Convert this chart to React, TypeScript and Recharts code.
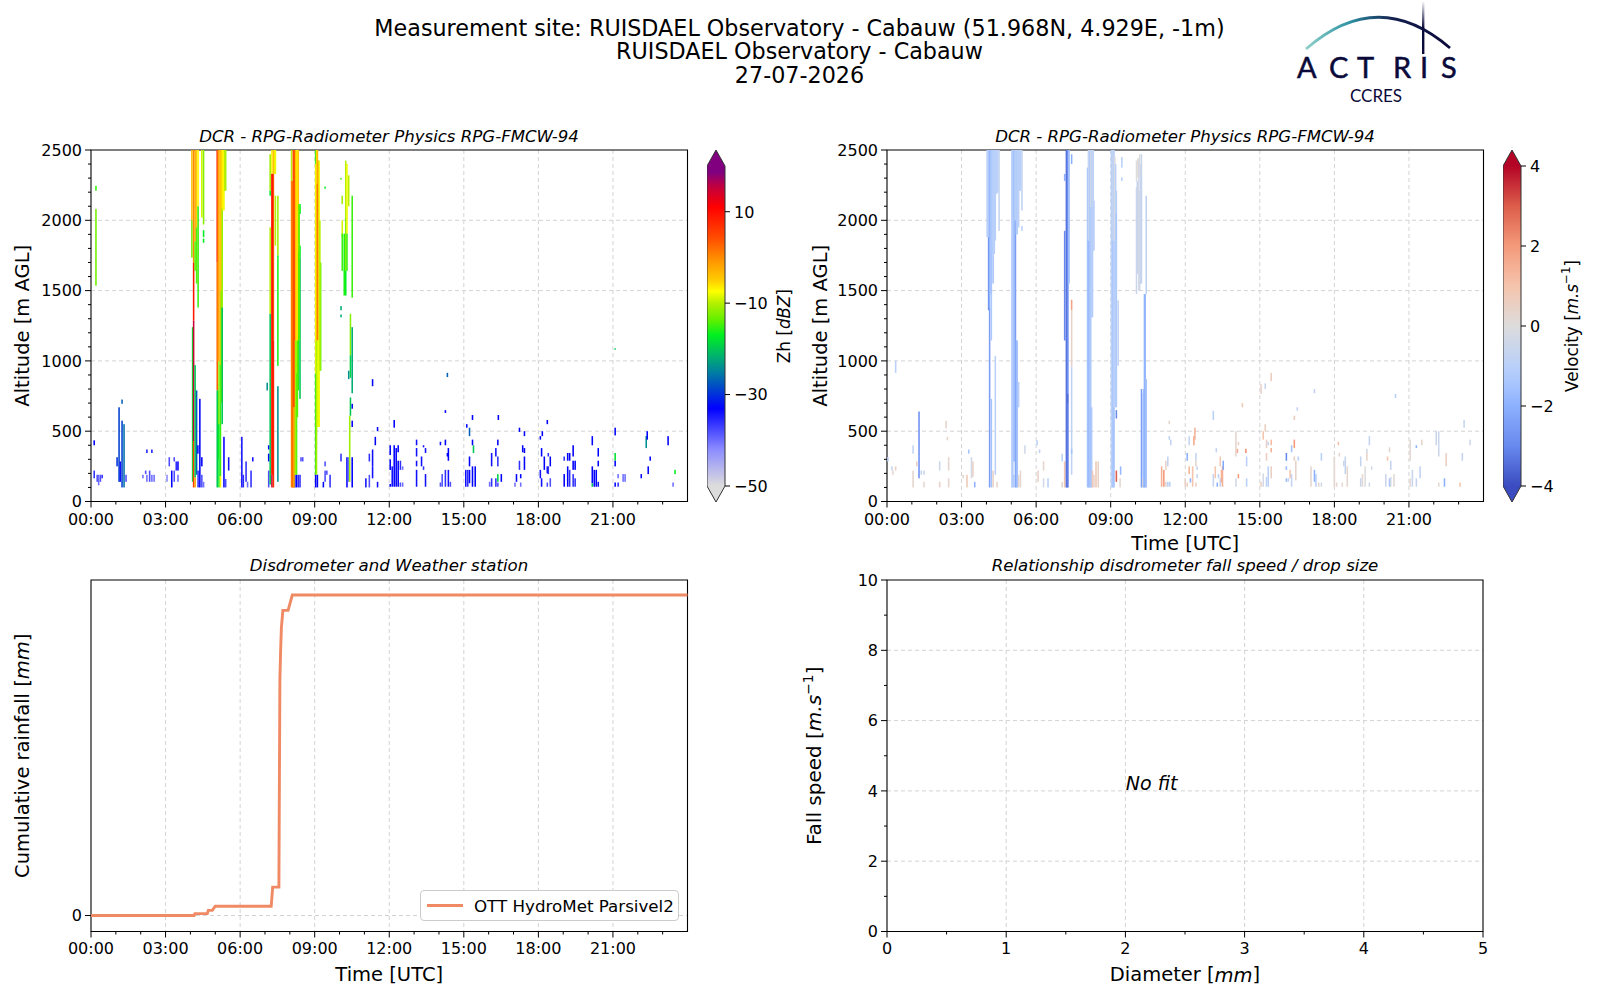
import {
  ComposedChart, Bar, Cell, Line, XAxis, YAxis, CartesianGrid,
  ReferenceArea, ReferenceDot, Label, Legend,
} from 'recharts'

const FONT = '"DejaVu Sans", sans-serif'
const TITLE_LINES = [
  'Measurement site: RUISDAEL Observatory - Cabauw (51.968N, 4.929E, -1m)',
  'RUISDAEL Observatory - Cabauw',
  '27-07-2026',
]

const hourTicks = [0, 1, 2, 3, 4, 5, 6, 7, 8, 9, 10, 11, 12, 13, 14, 15, 16, 17, 18, 19, 20, 21, 22, 23]
const hourGrid = [3, 6, 9, 12, 15, 18, 21]
const altTicks = [0, 100, 200, 300, 400, 500, 600, 700, 800, 900, 1000, 1100, 1200, 1300, 1400, 1500, 1600, 1700, 1800, 1900, 2000, 2100, 2200, 2300, 2400, 2500]
const altGrid = [500, 1000, 1500, 2000]

// colour scales as [value, colour]
const zhStops: [number, string][] = [
  [-50, '#dcdcdc'], [-42, '#8c8cff'], [-33, '#0000ff'], [-25, '#0080a0'], [-21.7, '#00b070'],
  [-17, '#00f020'], [-13.7, '#60f000'], [-10, '#b5f000'], [-7.4, '#ffff00'], [-5, '#ffcc00'],
  [-1, '#ff9900'], [4, '#ff5000'], [11, '#ff0000'], [15.6, '#c00040'], [18.6, '#800080'], [20, '#800080'],
]
const velStops: [number, string][] = [
  [-4, '#3b4cc0'], [-3, '#6889ee'], [-2, '#8db0fe'], [-1.4, '#aac7fd'], [-1, '#b9d0f9'], [0, '#dddcdc'],
  [1, '#f5c4ac'], [2, '#f49a7b'], [3, '#dc5d4a'], [4, '#b40426'],
]
const zhBarTicks = [-50, -30, -10, 10]
const velBarTicks = [-4, -2, 0, 2, 4]

// reflectivity: [hour, low m, high m, dBZ]
const zhEarlyClutter = [
  [0.13, 400, 435, -33], [0.13, 165, 220, -36], [0.25, 140, 190, -38], [0.31, 115, 190, -40], [0.38, 140, 190, -38], [0.45, 165, 190, -36],
  [1.05, 250, 315, -30], [1.13, 140, 670, -29], [1.18, 140, 285, -34], [1.25, 695, 725, -27], [1.25, 100, 575, -29], [1.33, 100, 550, -26], [1.41, 140, 190, -38],
  [2.09, 165, 190, -40], [2.2, 195, 220, -38], [2.25, 345, 370, -35], [2.25, 140, 190, -40], [2.36, 140, 220, -38], [2.45, 345, 370, -35], [2.45, 140, 190, -40], [2.54, 140, 190, -40],
  [3.06, 140, 190, -42], [3.15, 250, 315, -38], [3.25, 100, 220, -33], [3.35, 140, 220, -38], [3.35, 285, 315, -38], [3.43, 220, 285, -36], [3.5, 220, 285, -33], [3.5, 140, 190, -40],
  [4.31, 100, 220, -36], [4.38, 100, 730, -33], [4.46, 100, 190, -38], [4.46, 250, 315, -33], [4.53, 100, 140, -40], [4.3, 340, 400, -33],
  [5.35, 100, 460, -33], [5.42, 100, 160, -38], [5.54, 220, 315, -34],
  [6.07, 100, 460, -34], [6.13, 100, 190, -36], [6.24, 140, 285, -36], [6.3, 100, 140, -40], [6.44, 100, 220, -36], [6.51, 285, 315, -34],
  [7.15, 370, 400, -33], [7.15, 285, 340, -33], [7.15, 100, 220, -38],
  [8.45, 285, 315, -38], [8.52, 285, 315, -38], [8.41, 100, 190, -36], [8.34, 100, 190, -36],
  [9.35, 100, 140, -33], [9.42, 250, 285, -38], [9.42, 140, 220, -38], [9.49, 190, 220, -38], [9.62, 100, 190, -36],
  [10.06, 285, 340, -36], [10.3, 100, 315, -33], [10.36, 140, 315, -40], [10.51, 100, 315, -33], [10.51, 530, 575, -33], [10.51, 660, 695, -33],
]
const zhLateClutter = [
  [11.06, 100, 165, -34], [11.2, 285, 340, -36], [11.2, 100, 190, -38], [11.33, 820, 870, -33], [11.33, 250, 370, -34], [11.33, 165, 250, -34], [11.44, 400, 460, -33], [11.53, 500, 530, -33], [11.53, 100, 140, -34],
  [12.04, 105, 125, -33], [12.04, 224, 300, -33], [12.04, 330, 400, -33], [12.12, 105, 250, -34], [12.2, 105, 400, -33], [12.2, 525, 580, -33], [12.28, 105, 380, -33], [12.36, 105, 290, -33], [12.36, 350, 400, -33], [12.45, 105, 135, -38], [12.45, 225, 290, -36], [12.54, 105, 135, -40], [12.54, 225, 250, -40],
  [13.1, 105, 225, -34], [13.1, 250, 290, -34], [13.1, 320, 380, -34], [13.1, 400, 440, -34], [13.3, 250, 320, -34], [13.38, 225, 250, -36], [13.38, 385, 400, -34], [13.46, 105, 195, -34], [13.46, 345, 380, -34],
  [14.06, 105, 135, -38], [14.06, 400, 425, -34], [14.13, 105, 195, -38], [14.26, 105, 225, -36], [14.26, 400, 440, -33], [14.26, 630, 650, -33], [14.34, 885, 915, -27], [14.34, 320, 345, -33], [14.38, 290, 380, -33], [14.38, 105, 225, -34], [14.46, 105, 140, -38],
  [15.08, 105, 225, -34], [15.12, 525, 550, -33], [15.16, 105, 225, -36], [15.23, 465, 525, -27], [15.23, 250, 320, -33], [15.23, 130, 225, -33], [15.35, 580, 615, -33], [15.35, 400, 440, -33], [15.35, 105, 250, -33], [15.39, 345, 400, -20], [15.46, 105, 250, -33],
  [16.04, 105, 140, -40], [16.12, 250, 345, -34], [16.12, 105, 165, -36], [16.29, 320, 380, -34], [16.29, 105, 165, -36], [16.37, 400, 440, -33], [16.37, 250, 320, -36], [16.37, 140, 195, -19], [16.37, 105, 135, -38], [16.39, 580, 615, -33], [16.51, 140, 195, -33],
  [17.06, 105, 135, -40], [17.12, 140, 195, -33], [17.24, 495, 525, -33], [17.24, 225, 290, -36], [17.29, 165, 195, -33], [17.29, 105, 135, -40], [17.37, 350, 400, -33], [17.44, 465, 500, -33], [17.44, 345, 380, -33], [17.44, 225, 320, -33],
  [18.08, 440, 465, -33], [18.08, 165, 225, -34], [18.13, 320, 380, -33], [18.13, 105, 165, -34], [18.16, 465, 500, -33], [18.24, 225, 320, -33], [18.36, 550, 580, -33], [18.36, 200, 250, -33], [18.36, 105, 135, -38], [18.4, 320, 345, -36], [18.4, 195, 250, -36], [18.48, 250, 320, -33], [18.48, 105, 165, -38],
  [19.04, 290, 320, -36], [19.04, 105, 195, -33], [19.18, 290, 345, -33], [19.18, 105, 250, -33], [19.26, 290, 345, -33], [19.26, 105, 225, -36], [19.4, 320, 400, -33], [19.4, 225, 290, -33], [19.4, 105, 195, -36], [19.48, 225, 290, -33], [19.48, 105, 165, -36],
  [20.17, 400, 465, -33], [20.17, 130, 250, -33], [20.17, 105, 130, -20], [20.25, 105, 225, -33], [20.33, 105, 225, -33], [20.41, 320, 380, -33], [20.41, 250, 290, -33], [20.41, 105, 140, -34],
  [21.09, 1080, 1090, -20], [21.09, 470, 525, -33], [21.09, 290, 345, -18], [21.09, 250, 290, -33], [21.09, 105, 135, -33], [21.21, 165, 195, -40], [21.21, 105, 135, -36], [21.41, 140, 195, -40], [21.49, 140, 195, -40],
  [22.14, 165, 195, -33], [22.34, 380, 465, -24], [22.38, 440, 500, -33], [22.42, 195, 250, -33], [22.5, 290, 320, -33], [23.22, 400, 465, -33], [23.42, 105, 135, -40], [23.5, 195, 225, -17],
]
const zhRainBands = [
  [0.2, 2210, 2245, -15], [0.2, 1535, 2080, -13],
  [4.06, 2000, 2500, -4], [4.06, 1735, 2000, -13], [4.09, 140, 1240, -18],
  [4.13, 1700, 2500, 0], [4.13, 1285, 1700, 9], [4.13, 430, 1285, 15], [4.13, 100, 430, 6],
  [4.19, 1850, 2500, -2], [4.19, 1640, 1850, -14], [4.19, 170, 970, -20], [4.19, 100, 170, -2],
  [4.25, 1950, 2500, -5], [4.25, 1550, 1950, -14], [4.25, 190, 790, -27],
  [4.31, 2100, 2500, -7], [4.31, 1380, 2100, -15],
  [4.46, 2020, 2500, -9], [4.53, 1970, 2500, -12], [4.53, 1880, 1930, -17], [4.53, 1840, 1870, -17],
  [5.08, 1700, 2500, 9], [5.08, 790, 1700, 3], [5.08, 100, 790, -20],
  [5.115, 1000, 2500, 0], [5.115, 300, 790, -19],
  [5.15, 1000, 2500, -2], [5.15, 550, 1000, -12], [5.15, 100, 550, -17],
  [5.21, 970, 2500, -4], [5.21, 180, 970, -15], [5.21, 100, 180, -7],
  [5.245, 1500, 2500, -5], [5.245, 700, 1500, -13],
  [5.28, 2090, 2500, -6], [5.28, 1380, 2090, -11], [5.28, 550, 1380, -20],
  [5.35, 2070, 2500, -8], [5.42, 2210, 2500, -11], [5.315, 2070, 2500, -7], [5.385, 2210, 2500, -10],
  [7.09, 790, 845, -24],
  [7.21, 2210, 2470, -11], [7.21, 2175, 2210, -17], [7.21, 1335, 1950, -10], [7.21, 120, 1335, -20],
  [7.28, 2330, 2500, -7], [7.28, 190, 2330, 9], [7.28, 100, 190, 15],
  [7.34, 2330, 2500, -3], [7.34, 1145, 2330, 1], [7.34, 100, 1145, 7],
  [7.31, 190, 2330, 9], [7.38, 2330, 2500, -6],
  [7.42, 2330, 2500, -8], [7.42, 1820, 2175, -10],
  [7.52, 1750, 2175, -11], [7.52, 1730, 1750, -17], [7.52, 965, 1730, -16], [7.52, 140, 820, -24],
  [8.07, 2280, 2500, -10], [8.07, 100, 2280, 0],
  [8.14, 670, 2500, 3], [8.14, 100, 670, 2], [8.105, 100, 2280, 2],
  [8.2, 1855, 2500, 1], [8.2, 1145, 1855, 7], [8.2, 670, 1145, -7], [8.2, 190, 670, -16], [8.2, 100, 190, -33],
  [8.17, 670, 2500, 5], [8.17, 100, 670, -3],
  [8.27, 910, 2500, -7], [8.27, 190, 910, -15], [8.27, 100, 190, -33], [8.235, 1145, 2500, -4], [8.235, 190, 1145, -11],
  [8.34, 2115, 2500, -4], [8.34, 1780, 2115, -11], [8.34, 790, 1780, -16], [8.305, 1145, 2500, -6], [8.305, 600, 1145, -14],
  [8.41, 2045, 2115, -17], [8.41, 1735, 1820, -17], [8.41, 730, 1735, -20], [8.375, 1145, 2115, -14],
  [9.04, 2400, 2500, -16], [9.04, 910, 2400, -8], [9.04, 190, 910, -15], [9.04, 100, 190, -33],
  [9.075, 190, 1145, -11], [9.075, 1145, 2500, -6],
  [9.11, 2260, 2500, -4], [9.11, 1145, 2260, 2], [9.11, 530, 1145, -9], [9.11, 100, 190, -33],
  [9.145, 1145, 2425, 0], [9.145, 530, 1145, -8],
  [9.18, 530, 2425, -8], [9.24, 930, 1700, -14], [9.21, 930, 2000, -10],
  [9.42, 2225, 2240, -17],
  [10.06, 2290, 2300, -15], [10.06, 1360, 1390, -22], [10.06, 1310, 1330, -22],
  [10.11, 2115, 2175, -11], [10.11, 1880, 2000, -9], [10.11, 1640, 1905, -15],
  [10.19, 1465, 1905, -16],
  [10.25, 2020, 2425, -10], [10.25, 1640, 2020, -12], [10.25, 1465, 1640, -17],
  [10.3, 1905, 2400, -8], [10.3, 1640, 1905, -15],
  [10.37, 2100, 2320, -10], [10.37, 870, 930, -24],
  [10.41, 140, 610, -11], [10.44, 1040, 1335, -12], [10.44, 880, 1040, -19], [10.44, 610, 740, -20],
  [10.51, 1450, 2175, -15], [10.51, 770, 1240, -22],
]

// velocity: [hour, low m, high m, m/s]
const velEarlyClutter = [
  [0.04, 285, 315, -1], [0.2, 220, 250, -0.7], [0.24, 190, 220, 0.3], [0.35, 915, 1000, -1], [0.35, 220, 250, 0.5],
  [1.05, 340, 400, -0.7], [1.05, 100, 220, 0.3], [1.2, 250, 285, 0.5], [1.29, 165, 640, -2.8], [1.38, 190, 220, -0.6], [1.49, 190, 220, -0.6], [1.49, 100, 140, 0.3],
  [2.12, 220, 285, -0.5], [2.12, 100, 140, 0.4], [2.38, 520, 575, 0.4], [2.43, 435, 460, 0.3], [2.48, 285, 315, 0.3], [2.48, 220, 285, 0.3], [2.48, 100, 165, 0.3],
  [3.06, 165, 190, 0.3], [3.22, 100, 190, 0.8], [3.29, 340, 370, -1.5], [3.4, 165, 315, -0.3], [3.46, 175, 285, 0.5], [3.53, 100, 140, -2],
  [5.55, 340, 400, -0.4], [6.04, 400, 435, -1], [6.14, 345, 370, -0.8], [6.08, 140, 220, 0.4], [6.3, 220, 285, 0.3], [6.3, 100, 165, -0.3], [6.48, 100, 165, -1], [7.05, 285, 340, -1], [7.05, 100, 140, 0.3],
  [8.41, 100, 285, 0.8], [8.5, 100, 285, 0.5], [9.4, 190, 250, -1.8], [9.38, 100, 165, 0.2], [9.45, 2375, 2450, -1], [9.45, 2280, 2305, -1],
]
const velLateClutter = [
  [11.05, 105, 250, 1.5], [11.14, 105, 225, 2], [11.22, 225, 290, 0.4], [11.22, 105, 140, 0.3], [11.3, 250, 320, -0.7], [11.3, 105, 140, -1], [11.36, 550, 575, 0.3], [11.36, 440, 465, -1], [11.38, 105, 140, -1], [11.42, 400, 440, -0.8],
  [12.0, 105, 165, 0.4], [12.08, 290, 345, -2], [12.08, 105, 135, 0.6], [12.16, 400, 465, -0.7], [12.16, 195, 250, 1.3], [12.21, 135, 165, -2], [12.3, 105, 250, 1], [12.35, 400, 465, 1.7], [12.39, 440, 525, 1.4], [12.43, 290, 345, -0.7], [12.43, 250, 290, 0.3], [12.43, 105, 135, 0.6], [12.48, 225, 250, -0.7], [12.48, 165, 195, -0.7],
  [13.13, 580, 645, -1], [13.13, 105, 195, -0.7], [13.21, 165, 250, 1], [13.25, 350, 380, -0.7], [13.29, 105, 135, -2], [13.34, 165, 195, -1], [13.41, 250, 320, 0.8], [13.41, 105, 165, -0.7], [13.46, 135, 225, 1.5], [13.5, 105, 250, 1.5], [13.53, 225, 290, -2.2],
  [14.04, 320, 500, 0.3], [14.04, 105, 165, -0.3], [14.1, 345, 375, 1.5], [14.14, 165, 195, 2], [14.14, 400, 425, 0.5], [14.3, 670, 700, 0.8], [14.44, 345, 375, 2.2], [14.47, 250, 320, -1], [14.47, 105, 165, -1],
  [15.05, 765, 835, 0.4], [15.05, 105, 140, 0.6], [15.14, 440, 500, 1], [15.14, 105, 200, -0.3], [15.22, 500, 550, 0.6], [15.22, 800, 840, -0.6], [15.27, 380, 440, 0.5], [15.27, 290, 345, 0.6], [15.27, 105, 175, -0.8], [15.34, 400, 425, -0.7], [15.34, 105, 250, -1], [15.46, 855, 915, 0.6], [15.46, 400, 440, 1.2], [15.46, 350, 380, 1.5], [15.46, 165, 250, 0.5],
  [16.07, 290, 345, -3], [16.07, 225, 250, -1.8], [16.07, 140, 165, -1.8], [16.15, 140, 165, -0.7], [16.22, 165, 225, 1], [16.28, 350, 400, -1.5], [16.28, 105, 195, -0.7], [16.39, 580, 610, 0.8], [16.39, 380, 440, 2], [16.39, 290, 320, 0.6], [16.45, 150, 290, 0.4], [16.51, 645, 670, -0.8], [16.55, 290, 320, -1],
  [17.06, 105, 250, 0.3], [17.2, 770, 800, -0.8], [17.2, 140, 225, -2], [17.26, 105, 195, -1], [17.37, 105, 135, 0.3], [17.48, 290, 345, -1], [17.48, 105, 135, -0.3],
  [18.0, 105, 320, 0.3], [18.09, 105, 135, 0.3], [18.16, 400, 425, 1], [18.2, 320, 345, 0.3], [18.32, 105, 135, 0.3], [18.38, 250, 290, -0.5], [18.44, 195, 320, -0.7], [18.52, 105, 250, 0.3],
  [19.06, 250, 320, -0.7], [19.06, 105, 165, -0.6], [19.13, 105, 195, 0.2], [19.24, 105, 250, 0], [19.31, 290, 345, 0.4], [19.31, 345, 375, -0.3], [19.41, 400, 465, -0.7], [19.41, 105, 135, -0.3], [19.5, 225, 250, -0.3],
  [20.07, 105, 195, -0.5], [20.14, 290, 320, 1], [20.22, 350, 385, 0.3], [20.22, 105, 165, -1.5], [20.27, 225, 290, -0.7], [20.27, 105, 175, -0.3], [20.4, 105, 195, 0.2], [20.46, 735, 765, -1],
  [21.05, 290, 440, 0.2], [21.05, 105, 165, 0.2], [21.14, 105, 225, -0.6], [21.3, 380, 400, -2], [21.3, 105, 165, -0.7], [21.45, 165, 250, -0.8], [21.52, 400, 440, 0.3],
  [22.1, 400, 500, -0.5], [22.2, 320, 500, -0.5], [22.2, 105, 135, 0.2], [22.43, 105, 165, -2], [22.5, 250, 345, 0.6], [23.06, 105, 135, 1], [23.15, 290, 345, -0.8], [23.22, 525, 580, -0.6], [23.46, 400, 440, -0.5],
]
const velRainBands = [
  [4.03, 1880, 2500, -1], [4.09, 1880, 2500, -1.2], [4.06, 1880, 2500, -1], [4.09, 1360, 1880, -2.8],
  [4.13, 1380, 2500, -2], [4.13, 100, 1380, -2.5], [4.2, 1475, 2500, -1.5], [4.2, 1145, 1475, -1.3], [4.2, 100, 730, -1.5], [4.165, 1475, 2500, -1.4],
  [4.27, 1760, 2500, -1.2], [4.27, 1550, 1760, -1.5], [4.27, 100, 220, 0.5], [4.235, 1760, 2500, -1.1], [4.32, 1760, 2500, -1.1], [4.36, 1855, 2500, -1], [4.36, 190, 1035, -1],
  [4.4, 2190, 2500, -1], [4.43, 2190, 2500, -1], [4.43, 100, 140, 0.4], [4.47, 2200, 2500, -0.9], [4.51, 1925, 2500, -0.7],
  [5.03, 100, 2500, -1.3], [5.065, 100, 2500, -1.2], [5.1, 285, 2500, -1.5], [5.1, 100, 190, -1.2], [5.135, 285, 2500, -1.4],
  [5.17, 100, 2000, -2.5], [5.17, 2000, 2500, -1], [5.205, 1900, 2500, -1.2], [5.205, 100, 1145, -1.9], [5.24, 1900, 2500, -1.1], [5.24, 100, 1145, -1.5],
  [5.27, 1950, 2500, -1], [5.3, 1950, 2500, -0.9], [5.3, 670, 850, -1], [5.3, 100, 190, 0.3], [5.335, 2210, 2500, -1], [5.37, 2210, 2500, -1], [5.37, 100, 220, 0.3], [5.43, 2070, 2500, -0.8], [5.43, 1925, 1960, -1],
  [7.15, 2280, 2330, -2], [7.15, 1145, 1925, -3], [7.15, 100, 285, 1],
  [7.22, 100, 2500, -3.6], [7.25, 100, 2500, -3.2], [7.28, 765, 2500, -2.8], [7.28, 695, 765, -3.5], [7.28, 100, 695, -3.2], [7.33, 1550, 2500, -1.5],
  [7.43, 2400, 2470, -2], [7.43, 1360, 1435, 1.8], [7.43, 960, 1360, 0.4], [7.43, 190, 960, -0.8], [7.43, 340, 375, -1.5],
  [8.07, 100, 2375, -1.5], [8.105, 1855, 2500, -0.7], [8.105, 100, 1855, -1.6], [8.14, 1855, 2500, -0.7], [8.14, 100, 1855, -1.8],
  [8.17, 100, 2500, -1.3], [8.2, 2095, 2500, -0.3], [8.2, 670, 2095, -1.3], [8.2, 100, 670, -1.5], [8.235, 1310, 2500, -1], [8.235, 100, 670, -1.3],
  [8.27, 2095, 2500, -0.5], [8.27, 1310, 2095, -1.2], [8.27, 100, 220, 0.8], [8.3, 1785, 2500, -0.9], [8.33, 1785, 2140, -1], [8.33, 100, 190, 0.4],
  [9.03, 100, 2500, -0.8], [9.065, 100, 2500, -1.1], [9.1, 1855, 2500, -0.5], [9.1, 100, 1855, -1.5], [9.135, 670, 2500, -1], [9.135, 100, 670, -1.5], [9.17, 1855, 2450, 0], [9.17, 670, 1855, -1], [9.2, 670, 2400, -1],
  [9.23, 2045, 2210, -1], [9.23, 1855, 2045, -1.4], [9.23, 670, 1855, -1.3], [9.23, 590, 650, -3], [9.23, 140, 220, 3], [9.3, 965, 1430, -0.8],
  [10.04, 2280, 2425, 0], [10.04, 1475, 2235, -0.5], [10.07, 1620, 2280, -0.5], [10.1, 2305, 2440, 0.2], [10.1, 1620, 2280, -0.6], [10.135, 1500, 2440, -0.4],
  [10.17, 2305, 2470, 0], [10.17, 1500, 2210, -0.3], [10.205, 1550, 2400, -0.5], [10.24, 2330, 2470, -0.5], [10.24, 1550, 2330, -0.7], [10.24, 100, 800, -2.5],
  [10.3, 100, 770, -1.2], [10.3, 100, 165, 0.3], [10.33, 100, 800, -1.5], [10.36, 100, 1475, -2], [10.39, 100, 1475, -1.8], [10.43, 1475, 2175, -0.8], [10.43, 100, 870, -1.5],
]

// cumulative rain
const rainHours = [0, 4.15, 4.18, 4.68, 4.72, 4.88, 5.0, 7.25, 7.31, 7.56, 7.6, 7.63, 7.66, 7.72, 7.93, 8.1, 24]
const rainValues = [0, 0, 0.06, 0.06, 0.16, 0.16, 0.29, 0.29, 0.89, 0.89, 7.4, 8.3, 9, 9.55, 9.55, 10.03, 10.03]

// no fit in this plot: speed stays empty, the rows only span the axis
const fitDiameter = [0, 5]
const fitSpeed = [null, null]
const diameterTicks = [0, 0.5, 1, 1.5, 2, 2.5, 3, 3.5, 4, 4.5, 5]
const speedTicks = [0, 1, 2, 3, 4, 5, 6, 7, 8, 9, 10]

const toRows = (list: number[][]) => list.map(([hour, low, high, value]) => ({ hour, span: [low, high], value }))
const zhRows = toRows([...zhEarlyClutter, ...zhLateClutter, ...zhRainBands])
const velRows = toRows([...velEarlyClutter, ...velLateClutter, ...velRainBands])
const rainRows = rainHours.map((hour, i) => ({ hour, rain: rainValues[i] }))
const fitRows = fitDiameter.map((d, i) => ({ d, speed: fitSpeed[i] }))

const mix = (a: string, b: string, f: number) => {
  const ch = (s: string, i: number) => parseInt(s.slice(i, i + 2), 16)
  const part = (i: number) => Math.round(ch(a, i) + (ch(b, i) - ch(a, i)) * f)
  return `rgb(${part(1)},${part(3)},${part(5)})`
}
const colorOf = (stops: [number, string][], v: number) => {
  for (let i = 1; i < stops.length; i++) {
    if (v <= stops[i][0]) return mix(stops[i - 1][1], stops[i][1], Math.max(0, (v - stops[i - 1][0]) / (stops[i][0] - stops[i - 1][0])))
  }
  return stops[stops.length - 1][1]
}

const hhmm = (h: number) => `${String(h).padStart(2, '0')}:00`

const bottomTick = (isMajor: (v: number) => boolean, fmt: (v: number) => string, textDy = 23) => ({ x, y, payload }: any) => {
  const major = isMajor(payload.value)
  return (
    <g>
      <line x1={x} x2={x} y1={y} y2={y + (major ? 6 : 3)} stroke="#000" strokeWidth={1} />
      {major && <text x={x} y={y + textDy} textAnchor="middle" fontSize={16} fill="#000">{fmt(payload.value)}</text>}
    </g>
  )
}
const leftTick = (isMajor: (v: number) => boolean) => ({ x, y, payload }: any) => {
  const major = isMajor(payload.value)
  return (
    <g>
      <line x1={x} x2={x - (major ? 6 : 3)} y1={y} y2={y} stroke="#000" strokeWidth={1} />
      {major && <text x={x - 9} y={y + 5.8} textAnchor="end" fontSize={16} fill="#000">{payload.value}</text>}
    </g>
  )
}
const rightTick = ({ x, y, payload }: any) => (
  <g>
    <line x1={x} x2={x + 5} y1={y} y2={y} stroke="#000" strokeWidth={1} />
    <text x={x + 9} y={y + 5.8} fontSize={16} fill="#000">{String(payload.value).replace('-', '\u2212')}</text>
  </g>
)

const sup = (text: string) => [
  <tspan key="a" dy={-6} fontSize="0.7em">{text}</tspan>,
  <tspan key="b" dy={6}>]</tspan>,
]
const yTitle = (parts: any, dist: number, size = 19.5) => ({ viewBox }: any) => {
  const cx = viewBox.x + dist
  const cy = viewBox.y + viewBox.height / 2
  return (
    <text x={cx} y={cy} transform={`rotate(-90 ${cx} ${cy})`} textAnchor="middle" dominantBaseline="central" fontSize={size} fill="#000">
      {parts}
    </text>
  )
}
const xTitle = (parts: any, dist = 41) => ({ viewBox }: any) => (
  <text x={viewBox.x + viewBox.width / 2} y={viewBox.y + dist} textAnchor="middle" dominantBaseline="central" fontSize={19.5} fill="#000">
    {parts}
  </text>
)
const italic = (s: string) => <tspan fontStyle="italic">{s}</tspan>

const ALT_TITLE = 'Altitude [m AGL]'

// library gives position and fill, the cell just needs a finer width than barSize allows
const CellShape = ({ x, y, width, height, fill }: any) => (
  <rect x={x + width / 2 - 0.78} y={y} width={1.55} height={height} fill={fill} />
)

function Title({ x, y, text }: any) {
  return (
    <div style={{ position: 'absolute', left: x - 400, width: 800, top: y, textAlign: 'center', fontStyle: 'italic', fontSize: 16.6, lineHeight: '20px' }}>
      {text}
    </div>
  )
}

function Heatmap({ left, top, rows, stops, yDist, xLabel }: any) {
  return (
    <div style={{ position: 'absolute', left: left - 90, top: top - 10 }}>
      <ComposedChart width={596.5 + 100} height={351.5 + 80} data={rows} margin={{ top: 10, right: 10, bottom: 30, left: 40 }}>
        <XAxis dataKey="hour" type="number" scale="linear" domain={[0, 24]} ticks={hourTicks} interval={0} height={40}
          axisLine={false} tickLine={false} tickSize={0} tickMargin={0}
          tick={bottomTick((v) => v % 3 === 0, hhmm)}>
          {xLabel && <Label content={xTitle('Time [UTC]', 41.5)} />}
        </XAxis>
        <YAxis type="number" domain={[0, 2500]} ticks={altTicks} interval={0} width={50}
          axisLine={false} tickLine={false} tickSize={0} tickMargin={0}
          tick={leftTick((v) => v % 500 === 0)}>
          <Label content={yTitle(ALT_TITLE, 50 - yDist)} />
        </YAxis>
        <Bar dataKey="span" barSize={2} isAnimationActive={false} shape={CellShape}>
          {rows.map((r: any, i: number) => <Cell key={i} fill={colorOf(stops, r.value)} />)}
        </Bar>
        <CartesianGrid stroke="#d3d3d3" strokeDasharray="4 3" verticalValues={hourGrid} horizontalValues={altGrid} />
        <ReferenceArea x1={0} x2={24} y1={0} y2={2500} fill="none" stroke="#000" strokeWidth={1.1} />
      </ComposedChart>
    </div>
  )
}

function ColorBar({ left, stops, ticks, domain, gradId, title, dist }: any) {
  const span = domain[1] - domain[0]
  const shape = ({ x, y, width, height }: any) => (
    <g>
      <rect x={x} y={y} width={width} height={height} fill={`url(#${gradId})`} />
      <polygon points={`${x},${y} ${x + width},${y} ${x + width / 2},${y - 16}`} fill={stops[stops.length - 1][1]} />
      <polygon points={`${x},${y + height} ${x + width},${y + height} ${x + width / 2},${y + height + 16}`} fill={stops[0][1]} />
      <path d={`M${x} ${y} L${x + width / 2} ${y - 16} L${x + width} ${y} V${y + height} L${x + width / 2} ${y + height + 16} L${x} ${y + height} Z`}
        fill="none" stroke="#333" strokeWidth={1} />
    </g>
  )
  return (
    <div style={{ position: 'absolute', left, top: 147.5 }}>
      <ComposedChart width={100} height={356} data={[{ name: 'bar', span: domain }]} barCategoryGap={0} margin={{ top: 18, right: 0, bottom: 18, left: 0 }}>
        <XAxis dataKey="name" hide />
        <YAxis orientation="right" type="number" domain={domain} ticks={ticks} interval={0} width={82}
          axisLine={false} tickLine={false} tickSize={0} tickMargin={0} tick={rightTick}>
          <Label content={yTitle(title, dist, 16.8)} />
        </YAxis>
        <defs>
          <linearGradient id={gradId} x1="0" y1="1" x2="0" y2="0">
            {stops.map(([v, c]: any) => <stop key={v} offset={(v - domain[0]) / span} stopColor={c} />)}
          </linearGradient>
        </defs>
        <Bar dataKey="span" isAnimationActive={false} shape={shape} />
      </ComposedChart>
    </div>
  )
}

function RainLegend() {
  return (
    <div style={{ display: 'flex', alignItems: 'center', height: 29, background: '#fff', border: '1px solid #ccc', borderRadius: 4, fontSize: 16.7, boxSizing: 'content-box' }}>
      <span style={{ display: 'inline-block', width: 36, height: 2.8, background: '#f08a65', marginLeft: 6, marginRight: 11 }} />
      <span>OTT HydroMet Parsivel2</span>
    </div>
  )
}

function Logo() {
  return (
    <svg style={{ position: 'absolute', left: 1290, top: 0 }} width={190} height={110} viewBox="1290 0 190 110">
      <defs>
        <linearGradient id="arcGrad" x1="1306" y1="0" x2="1450" y2="0" gradientUnits="userSpaceOnUse">
          <stop offset="0" stopColor="#8fd0c8" />
          <stop offset="0.3" stopColor="#2f93a5" />
          <stop offset="0.6" stopColor="#14204f" />
          <stop offset="1" stopColor="#0a0a3a" />
        </linearGradient>
        <linearGradient id="mastGrad" x1="0" y1="0" x2="0" y2="1">
          <stop offset="0" stopColor="#0a0a3a" stopOpacity={0.05} />
          <stop offset="0.5" stopColor="#0a0a3a" />
        </linearGradient>
      </defs>
      <path d="M1306 49 Q1378 -14 1450 48" fill="none" stroke="url(#arcGrad)" strokeWidth={2.8} />
      <rect x={1422} y={2} width={2.4} height={52} fill="url(#mastGrad)" />
      <text x="1297 1329 1357 1393 1420 1441" y={77.5} fontFamily="Lato" fontSize={29} fill="#0a0a3a" stroke="#0a0a3a" strokeWidth={0.5}>ACTRIS</text>
      <text x={1376} y={101.5} textAnchor="middle" fontFamily="Lato" fontSize={17} fill="#0a0a3a">CCRES</text>
    </svg>
  )
}

export default function App() {
  return (
    <div style={{ position: 'absolute', left: 0, top: 0, width: 1600, height: 1000, background: '#fff', fontFamily: FONT, color: '#000', overflow: 'hidden' }}>
      <div style={{ position: 'absolute', left: 0, width: 1599, top: 16.5, textAlign: 'center', fontSize: 22.25, lineHeight: '23.5px' }}>
        {TITLE_LINES.map((l) => <div key={l}>{l}</div>)}
      </div>
      <Logo />

      <Title x={389} y={126.5} text="DCR - RPG-Radiometer Physics RPG-FMCW-94" />
      <Heatmap left={91.2} top={149.5} rows={zhRows} stops={zhStops} yDist={69} />
      <ColorBar left={707} stops={zhStops} ticks={zhBarTicks} domain={[-50, 20]} gradId="zhGrad" dist={59}
        title={<>Zh [{italic('dBZ')}]</>} />

      <Title x={1185} y={126.5} text="DCR - RPG-Radiometer Physics RPG-FMCW-94" />
      <Heatmap left={887.3} top={149.5} rows={velRows} stops={velStops} yDist={67} xLabel />
      <ColorBar left={1503} stops={velStops} ticks={velBarTicks} domain={[-4, 4]} gradId="velGrad" dist={51}
        title={<>Velocity [{italic('m.s')}{sup('\u22121')}</>} />

      <Title x={389} y={556} text="Disdrometer and Weather station" />
      <div style={{ position: 'absolute', left: 91.2 - 90, top: 579.5 - 10 }}>
        <ComposedChart width={696.5} height={431.5} data={rainRows} margin={{ top: 10, right: 10, bottom: 30, left: 40 }}>
          <XAxis dataKey="hour" type="number" scale="linear" domain={[0, 24]} ticks={hourTicks} interval={0} height={40}
            axisLine={false} tickLine={false} tickSize={0} tickMargin={0} tick={bottomTick((v) => v % 3 === 0, hhmm, 22)}>
            <Label content={xTitle('Time [UTC]', 43)} />
          </XAxis>
          <YAxis type="number" domain={[-0.5, 10.5]} ticks={[0]} interval={0} width={50}
            axisLine={false} tickLine={false} tickSize={0} tickMargin={0} tick={leftTick(() => true)}>
            <Label content={yTitle(<>Cumulative rainfall [{italic('mm')}]</>, 50 - 69)} />
          </YAxis>
          <CartesianGrid stroke="#d3d3d3" strokeDasharray="4 3" verticalValues={hourGrid} horizontalValues={[0]} />
          <Line dataKey="rain" name="OTT HydroMet Parsivel2" stroke="#f08a65" strokeWidth={2.9} dot={false} isAnimationActive={false} />
          <ReferenceArea x1={0} x2={24} y1={-0.5} y2={10.5} fill="none" stroke="#000" strokeWidth={1.1} />
          <Legend layout="vertical" align="center" verticalAlign="middle" content={<RainLegend />}
            wrapperStyle={{ left: 420 - 1.2, top: 890 - 569.5, width: 259, height: 31 }} />
        </ComposedChart>
      </div>

      <Title x={1185} y={556} text="Relationship disdrometer fall speed / drop size" />
      <div style={{ position: 'absolute', left: 887.3 - 90, top: 579.5 - 10 }}>
        <ComposedChart width={696} height={431.5} data={fitRows} margin={{ top: 10, right: 10, bottom: 30, left: 40 }}>
          <XAxis dataKey="d" type="number" scale="linear" domain={[0, 5]} ticks={diameterTicks} interval={0} height={40}
            axisLine={false} tickLine={false} tickSize={0} tickMargin={0} tick={bottomTick((v) => v % 1 === 0, String, 22)}>
            <Label content={xTitle(<>Diameter [{italic('mm')}]</>, 43)} />
          </XAxis>
          <YAxis type="number" domain={[0, 10]} ticks={speedTicks} interval={0} width={50} allowDataOverflow
            axisLine={false} tickLine={false} tickSize={0} tickMargin={0} tick={leftTick((v) => v % 2 === 0)}>
            <Label content={yTitle(<>Fall speed [{italic('m.s')}{sup('\u22121')}</>, 50 - 73, 20)} />
          </YAxis>
          <CartesianGrid stroke="#d3d3d3" strokeDasharray="4 3" verticalValues={[1, 2, 3, 4]} horizontalValues={[2, 4, 6, 8]} />
          <Line dataKey="speed" stroke="none" dot={false} isAnimationActive={false} />
          <ReferenceDot x={2.22} y={4.21} r={0} fill="none" stroke="none">
            <Label value="No fit" position="center" fontSize={19} fontStyle="italic" fill="#000" />
          </ReferenceDot>
          <ReferenceArea x1={0} x2={5} y1={0} y2={10} fill="none" stroke="#000" strokeWidth={1.1} />
        </ComposedChart>
      </div>
    </div>
  )
}
